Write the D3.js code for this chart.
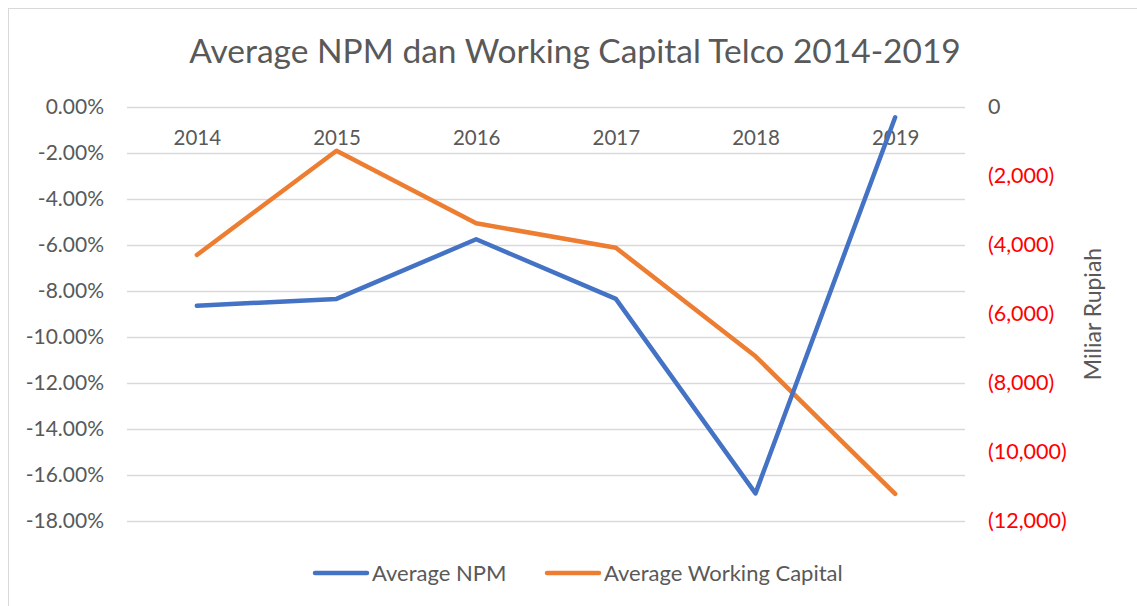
<!DOCTYPE html>
<html>
<head>
<meta charset="utf-8">
<script src="https://cdn.jsdelivr.net/npm/d3@7"></script>
<style>
  body { margin: 0; background: #fff; }
  text { font-family: Lato, "Open Sans", sans-serif; fill: #595959; }
</style>
</head>
<body>
<script>
const years = ["2014", "2015", "2016", "2017", "2018", "2019"];
const npm = [-0.0865, -0.0835, -0.0576, -0.0835, -0.168, -0.0046];
const workingCapital = [-4295, -1274, -3377, -4085, -7230, -11216];
const npmTicks = [0, -0.02, -0.04, -0.06, -0.08, -0.1, -0.12, -0.14, -0.16, -0.18];
const wcTicks = [0, -2000, -4000, -6000, -8000, -10000, -12000];

const width = 1137;
const height = 606;

const svg = d3
  .select("body")
  .append("svg")
  .attr("width", width)
  .attr("height", height);

// chart frame
svg
  .append("rect")
  .attr("x", 8.5)
  .attr("y", 8.5)
  .attr("width", width + 10)
  .attr("height", height + 10)
  .attr("fill", "#fff")
  .attr("stroke", "#d9d9d9");

const xScale = d3.scalePoint().domain(years).range([127, 965]).padding(0.5);
const yLeft = d3.scaleLinear().domain([-0.18, 0]).range([521, 106.7]);
const yRight = d3.scaleLinear().domain([-12000, 0]).range([521, 106.7]);

// gridlines
svg
  .append("g")
  .selectAll("line")
  .data(npmTicks)
  .enter()
  .append("line")
  .attr("x1", 127)
  .attr("x2", 965)
  .attr("y1", (d) => Math.round(yLeft(d)) + 0.5)
  .attr("y2", (d) => Math.round(yLeft(d)) + 0.5)
  .attr("stroke", "#d9d9d9")
  .attr("stroke-width", 1.5);

// left axis (plain hyphen, like Excel)
const leftAxis = d3
  .axisLeft(yLeft)
  .tickValues(npmTicks)
  .tickSize(0)
  .tickPadding(0)
  .tickFormat((d) => (d < 0 ? "-" : "") + Math.abs(d * 100).toFixed(2) + "%");

const gLeft = svg.append("g").attr("transform", "translate(104, 0)").call(leftAxis);
gLeft.select(".domain").remove();
gLeft.selectAll("text").style("font-size", "21px").attr("fill", "#595959");

// right axis
const rightAxis = d3
  .axisRight(yRight)
  .tickValues(wcTicks)
  .tickSize(0)
  .tickPadding(0)
  .tickFormat((d) => (d === 0 ? "0" : "(" + d3.format(",")(-d) + ")"));

const gRight = svg.append("g").attr("transform", "translate(988, 0)").call(rightAxis);
gRight.select(".domain").remove();
gRight
  .selectAll("text")
  .style("font-size", "21.5px")
  .style("fill", (d) => (d < 0 ? "#ff0000" : "#595959"));

// category labels
const xAxis = d3.axisTop(xScale).tickSize(0).tickPadding(0);
const gX = svg.append("g").attr("transform", "translate(0, 145)").call(xAxis);
gX.select(".domain").remove();
gX.selectAll("text").style("font-size", "20.5px").attr("fill", "#595959");

// lines
const npmLine = d3
  .line()
  .x((d, i) => xScale(years[i]))
  .y((d) => yLeft(d));

const wcLine = d3
  .line()
  .x((d, i) => xScale(years[i]))
  .y((d) => yRight(d));

svg
  .append("path")
  .datum(workingCapital)
  .attr("d", wcLine)
  .attr("fill", "none")
  .attr("stroke", "#ed7d31")
  .attr("stroke-width", 4.5)
  .attr("stroke-linecap", "round")
  .attr("stroke-linejoin", "round");

svg
  .append("path")
  .datum(npm)
  .attr("d", npmLine)
  .attr("fill", "none")
  .attr("stroke", "#4472c4")
  .attr("stroke-width", 4.5)
  .attr("stroke-linecap", "round")
  .attr("stroke-linejoin", "round");

// title
svg
  .append("text")
  .attr("x", 575)
  .attr("y", 63)
  .attr("text-anchor", "middle")
  .style("font-size", "33.5px")
  .text("Average NPM dan Working Capital Telco 2014-2019");

// right axis title
svg
  .append("text")
  .attr("transform", "translate(1101, 314) rotate(-90)")
  .attr("text-anchor", "middle")
  .style("font-size", "23px")
  .text("Miliar Rupiah");

// legend
const legendItems = [
  { name: "Average NPM", color: "#4472c4", x: 315 },
  { name: "Average Working Capital", color: "#ed7d31", x: 547 },
];

const legend = svg.append("g").attr("transform", "translate(0, 573)");

legend
  .selectAll("line")
  .data(legendItems)
  .enter()
  .append("line")
  .attr("x1", (d) => d.x)
  .attr("x2", (d) => d.x + 52)
  .attr("y1", 0)
  .attr("y2", 0)
  .attr("stroke", (d) => d.color)
  .attr("stroke-width", 4.5)
  .attr("stroke-linecap", "round");

legend
  .selectAll("text")
  .data(legendItems)
  .enter()
  .append("text")
  .attr("x", (d) => d.x + 57)
  .attr("y", 0)
  .attr("dy", "0.35em")
  .style("font-size", "22px")
  .text((d) => d.name);
</script>
</body>
</html>
